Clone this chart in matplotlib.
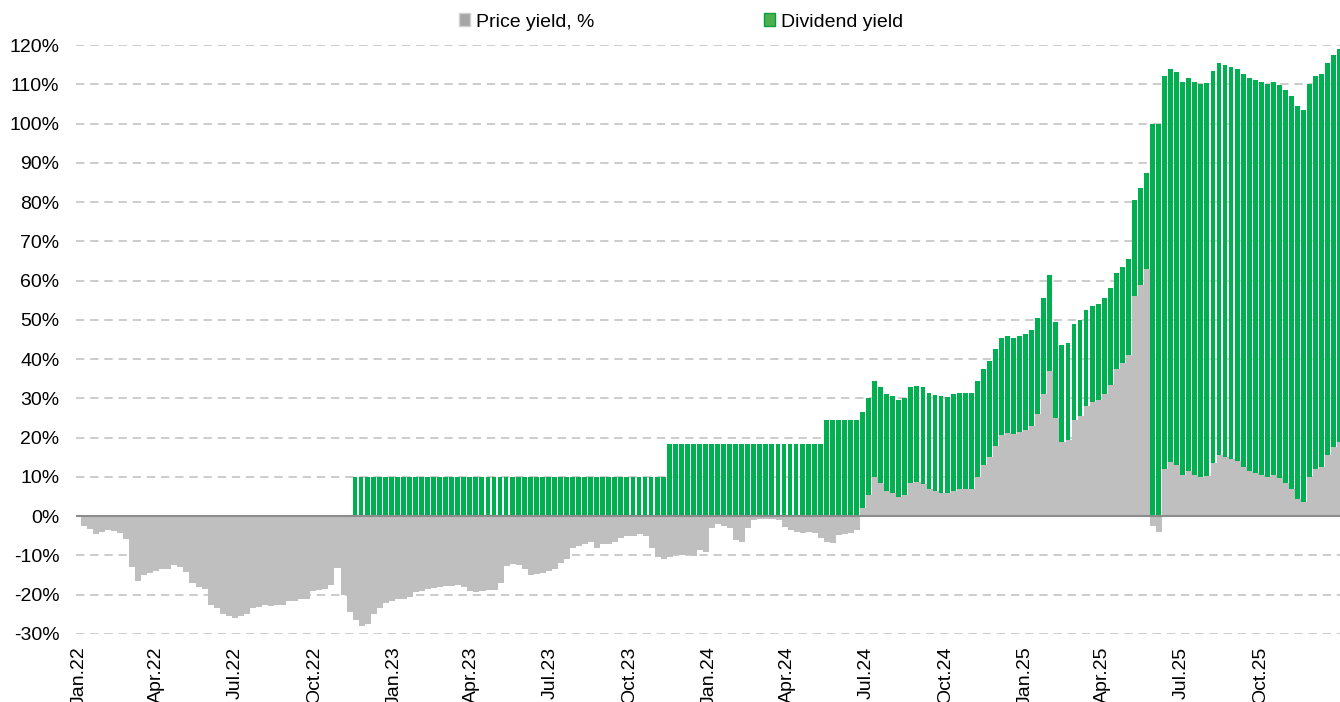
import numpy as np
import pandas as pd
import matplotlib
matplotlib.use('Agg')
import matplotlib.pyplot as plt
import matplotlib.dates as mdates
from matplotlib.patches import Patch

plt.rcParams['font.family'] = ['Liberation Sans', 'DejaVu Sans']

# weekly values, first week starts Mon 3 Jan 2022
first_week = '2022-01-03'

price_yield = [
    -2.5, -3.3, -4.5, -4.0, -3.5, -3.8, -4.2, -5.8, -13.0, -16.5, -15.0, -14.5, -14.0,
    -13.5, -13.5, -12.5, -13.0, -14.3, -17.0, -18.0, -18.5, -22.5, -23.5, -25.0, -25.5, -25.8,
    -25.5, -25.0, -23.5, -23.2, -22.7, -22.8, -22.5, -22.5, -21.7, -21.5, -21.2, -21.0, -19.0,
    -18.7, -18.5, -17.5, -13.2, -20.0, -24.5, -26.5, -28.0, -27.5, -25.0, -23.5, -22.0, -21.5,
    -21.2, -21.0, -20.5, -19.3, -19.0, -18.5, -18.3, -18.0, -17.8, -17.8, -17.6, -18.0, -19.0,
    -19.2, -19.0, -18.8, -18.7, -17.0, -12.8, -12.3, -12.5, -13.5, -15.0, -14.8, -14.5, -14.0,
    -13.5, -12.0, -11.0, -8.0, -7.5, -7.0, -6.5, -8.0, -7.0, -7.0, -6.5, -5.5, -5.0,
    -5.0, -4.5, -5.0, -8.0, -10.5, -11.0, -10.5, -10.0, -9.8, -10.0, -10.2, -8.5, -9.0,
    -3.0, -2.0, -2.5, -3.0, -6.0, -6.5, -3.0, -1.0, -0.8, -0.6, -0.8, -1.0, -2.8,
    -3.5, -4.0, -4.2, -4.0, -4.4, -5.5, -6.5, -6.8, -4.8, -4.5, -4.2, -3.5, 2.0,
    5.5, 10.0, 8.5, 6.5, 6.0, 5.0, 5.5, 8.5, 8.7, 8.3, 7.0, 6.3, 6.0,
    5.8, 6.5, 6.8, 7.0, 7.0, 10.0, 13.0, 15.0, 18.0, 20.8, 21.3, 21.0, 21.5,
    22.0, 23.0, 26.0, 31.0, 37.0, 25.0, 19.0, 19.5, 24.5, 25.5, 28.0, 29.0, 29.5,
    31.0, 33.5, 37.5, 39.0, 41.0, 56.0, 59.0, 63.0, -2.5, -4.0, 12.0, 13.8, 13.0,
    10.5, 11.5, 10.5, 10.0, 10.3, 13.5, 15.5, 15.0, 14.5, 14.0, 12.5, 11.5, 11.0,
    10.5, 10.0, 10.5, 9.8, 8.5, 7.0, 4.5, 3.5, 10.0, 12.0, 12.5, 15.5, 17.5,
    19.0,
]

dividend_yield = [
    0, 0, 0, 0, 0, 0, 0, 0, 0, 0, 0, 0, 0,
    0, 0, 0, 0, 0, 0, 0, 0, 0, 0, 0, 0, 0,
    0, 0, 0, 0, 0, 0, 0, 0, 0, 0, 0, 0, 0,
    0, 0, 0, 0, 0, 0, 10, 10, 10, 10, 10, 10, 10,
    10, 10, 10, 10, 10, 10, 10, 10, 10, 10, 10, 10, 10,
    10, 10, 10, 10, 10, 10, 10, 10, 10, 10, 10, 10, 10,
    10, 10, 10, 10, 10, 10, 10, 10, 10, 10, 10, 10, 10,
    10, 10, 10, 10, 10, 10, 18.5, 18.5, 18.5, 18.5, 18.5, 18.5, 18.5,
    18.5, 18.5, 18.5, 18.5, 18.5, 18.5, 18.5, 18.5, 18.5, 18.5, 18.5, 18.5, 18.5,
    18.5, 18.5, 18.5, 18.5, 18.5, 18.5, 24.5, 24.5, 24.5, 24.5, 24.5, 24.5, 24.5,
    24.5, 24.5, 24.5, 24.5, 24.5, 24.5, 24.5, 24.5, 24.5, 24.5, 24.5, 24.5, 24.5,
    24.5, 24.5, 24.5, 24.5, 24.5, 24.5, 24.5, 24.5, 24.5, 24.5, 24.5, 24.5, 24.5,
    24.5, 24.5, 24.5, 24.5, 24.5, 24.5, 24.5, 24.5, 24.5, 24.5, 24.5, 24.5, 24.5,
    24.5, 24.5, 24.5, 24.5, 24.5, 24.5, 24.5, 24.5, 100, 100, 100, 100, 100,
    100, 100, 100, 100, 100, 100, 100, 100, 100, 100, 100, 100, 100,
    100, 100, 100, 100, 100, 100, 100, 100, 100, 100, 100, 100, 100,
    100,
]

quarter_labels = ['Jan.22', 'Apr.22', 'Jul.22', 'Oct.22',
                  'Jan.23', 'Apr.23', 'Jul.23', 'Oct.23',
                  'Jan.24', 'Apr.24', 'Jul.24', 'Oct.24',
                  'Jan.25', 'Apr.25', 'Jul.25', 'Oct.25']
y_ticks = [-30, -20, -10, 0, 10, 20, 30, 40, 50, 60, 70, 80, 90, 100, 110, 120]

weeks = pd.date_range(first_week, periods=len(price_yield), freq='7D')
x = mdates.date2num(weeks.to_pydatetime())
price = np.array(price_yield)
div = np.array(dividend_yield)

fig = plt.figure(figsize=(13.4, 7.02), dpi=100)
ax = fig.add_axes([76 / 1340, 68 / 702, 1264 / 1340, 589 / 702])

for v in y_ticks:
    ax.axhline(v, color='#C4C4C4', lw=1.2, ls=(0, (5, 3.5)), zorder=0)

ax.bar(x, price, width=7, align='edge', color='#BFBFBF', lw=0, zorder=2)
# dividend stacked on top of positive price, from zero otherwise
ax.bar(x, div, width=5.6, bottom=np.maximum(price, 0), align='edge',
       color='#00B050', lw=0, zorder=3)
ax.axhline(0, color='#8C8C8C', lw=1.5, zorder=4)

ax.set_xlim(mdates.date2num(pd.Timestamp('2021-12-28 12:00')),
            mdates.date2num(pd.Timestamp('2026-01-01')))
ax.set_ylim(-30, 120)

q_dates = pd.date_range('2022-01-01', periods=len(quarter_labels), freq='QS')
ax.set_xticks(mdates.date2num(q_dates.to_pydatetime()))
ax.set_xticklabels(quarter_labels, rotation=90, fontsize=14)
ax.set_yticks(y_ticks)
ax.set_yticklabels([f'{v}%' for v in y_ticks], fontsize=14)
ax.tick_params(axis='both', length=0)
ax.tick_params(axis='y', pad=12)
ax.tick_params(axis='x', pad=9)
for s in ax.spines.values():
    s.set_visible(False)

handles = [Patch(facecolor='#A6A6A6', edgecolor='#D0D0D0'),
           Patch(facecolor='#4CAF50', edgecolor='#00A040')]
fig.legend(handles, ['Price yield, %', 'Dividend yield'], loc='center',
           bbox_to_anchor=(681 / 1340, 1 - 22 / 702), ncol=2, frameon=False,
           fontsize=14, handlelength=0.6, handleheight=0.6,
           handletextpad=0.3, columnspacing=8.7)

fig.savefig('out.png', dpi=100)
